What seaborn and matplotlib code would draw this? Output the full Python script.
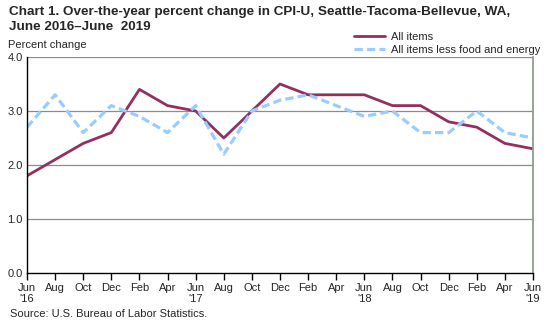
import matplotlib
matplotlib.use("Agg")
import matplotlib.pyplot as plt
import seaborn as sns
import pandas as pd
import numpy as np

months = ["Jun\n'16", "Aug", "Oct", "Dec", "Feb", "Apr", "Jun\n'17", "Aug", "Oct", "Dec",
          "Feb", "Apr", "Jun\n'18", "Aug", "Oct", "Dec", "Feb", "Apr", "Jun\n'19"]
all_items = [1.8, 2.1, 2.4, 2.6, 3.4, 3.1, 3.0, 2.5, 3.0, 3.5,
             3.3, 3.3, 3.3, 3.1, 3.1, 2.8, 2.7, 2.4, 2.3]
core = [2.7, 3.3, 2.6, 3.1, 2.9, 2.6, 3.1, 2.2, 3.0, 3.2,
        3.3, 3.1, 2.9, 3.0, 2.6, 2.6, 3.0, 2.6, 2.5]
yticks = [0.0, 1.0, 2.0, 3.0, 4.0]

sns.set_theme(style="white")
plt.rcParams['font.family'] = ['Liberation Sans', 'DejaVu Sans']

df = pd.DataFrame({
    "idx": list(range(len(months))) * 2,
    "value": all_items + core,
    "series": ["All items"] * len(months) + ["All items less food and energy"] * len(months),
})

fig = plt.figure(figsize=(5.51, 3.26), dpi=100)
ax = fig.add_axes([27/551, 1 - 273/326, (533 - 27)/551, (273 - 57)/326])

sns.lineplot(data=df[df.series == "All items"], x="idx", y="value", ax=ax,
             color="#93305F", linewidth=2.0, label="All items")
sns.lineplot(data=df[df.series != "All items"], x="idx", y="value", ax=ax,
             color="#99CCFF", linewidth=2.3, linestyle=(0, (2.6, 1.3)),
             label="All items less food and energy")

ax.set_xlim(0, len(months) - 1)
ax.set_ylim(0, 4)
ax.set_xticks(range(len(months)))
ax.set_xticklabels(months, fontsize=8)
ax.set_yticks(yticks)
ax.set_yticklabels([f"{v:.1f}" for v in yticks], fontsize=8)
ax.set_xlabel("")
ax.set_ylabel("")
for y in yticks[1:]:
    ax.axhline(y, color="#8C8C8C", linewidth=0.9, zorder=0)
ax.spines['top'].set_visible(False)
ax.spines['right'].set_color("#8A9A8A")
ax.spines['left'].set_color("black")
ax.spines['bottom'].set_color("black")
ax.spines['left'].set_linewidth(1.0)
ax.spines['bottom'].set_linewidth(1.0)
ax.tick_params(axis='x', direction='out', length=5, width=1, color='black', bottom=True, pad=2)
ax.tick_params(axis='y', length=0, pad=3)
for lab in ax.get_xticklabels():
    lab.set_horizontalalignment('center')

leg = ax.legend(loc="upper left", bbox_to_anchor=(354/551, 1 - 32/326),
                bbox_transform=fig.transFigure, frameon=False, fontsize=8,
                handlelength=2.8, labelspacing=0.3, borderaxespad=0, borderpad=0,
                handletextpad=0.5)

fig.text(9/551, 1 - 12/326, "Chart 1. Over-the-year percent change in CPI-U, Seattle-Tacoma-Bellevue, WA,",
         fontsize=9.7, fontweight='bold', va='center', ha='left')
fig.text(9/551, 1 - 27.5/326, "June 2016\u2013June  2019",
         fontsize=9.7, fontweight='bold', va='center', ha='left')
fig.text(8/551, 1 - 45/326, "Percent change", fontsize=8, va='center', ha='left')
fig.text(10/551, 1 - 314/326, "Source: U.S. Bureau of Labor Statistics.", fontsize=8, va='center', ha='left')

fig.savefig("out.png", dpi=100)
